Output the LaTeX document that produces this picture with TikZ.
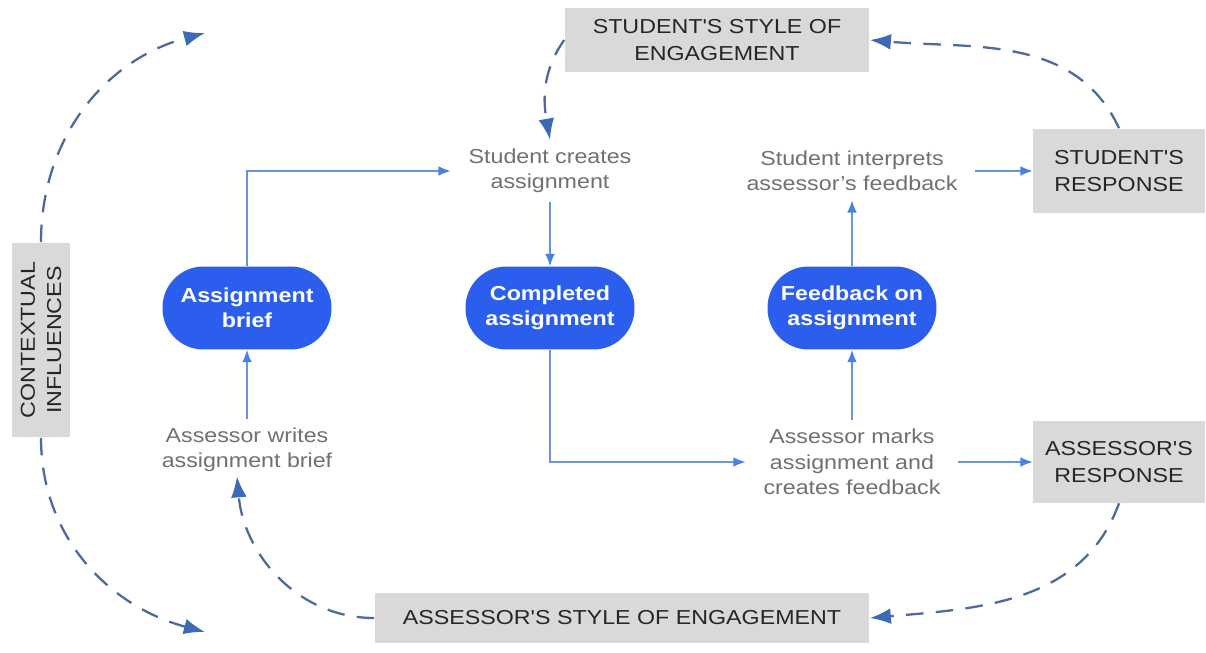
\documentclass[tikz,border=0pt]{standalone}
\usepackage{fontspec}
\setmainfont[FakeStretch=1.15]{Liberation Sans}
\newfontfamily\boxfont[FakeStretch=1.15]{Liberation Sans}
\usepackage{xcolor}
\usetikzlibrary{arrows.meta}

\definecolor{pillblue}{RGB}{43,94,236}
\definecolor{boxgray}{RGB}{217,217,217}
\definecolor{flowline}{RGB}{105,148,215}
\definecolor{flowtip}{RGB}{72,130,222}
\definecolor{influenceline}{RGB}{78,106,156}
\definecolor{influencetip}{RGB}{60,106,182}
\definecolor{stepgray}{RGB}{112,112,112}

\begin{document}
\begin{tikzpicture}[x=0.02cm,y=-0.02cm,
    pill/.style={fill=pillblue, text=white, font=\bfseries\fontsize{11.5}{14.5}\selectfont,
        rounded corners=0.82cm, minimum width=3.38cm, minimum height=1.66cm, align=center, inner sep=0pt},
    actor/.style={fill=boxgray, text=black!85, font=\boxfont\fontsize{11.5}{15}\selectfont, align=center, inner sep=0pt},
    stepnote/.style={text=stepgray, font=\fontsize{11.5}{14.5}\selectfont, align=center,
        inner xsep=10pt, inner ysep=5pt},
    flowarrow/.style={draw=flowline, line width=0.8pt, -{Latex[length=7pt,width=5.5pt,color=flowtip]}},
    influence/.style={draw=influenceline, line width=1.3pt, dash pattern=on 10pt off 7pt,
        -{Latex[length=12pt,width=9pt,color=influencetip]}},
]
    \useasboundingbox (0,0) rectangle (1206,652);

    % grey boxes: the two sides and the context
    \node[actor, minimum width=3.9cm, minimum height=1.18cm, rotate=90] (context) at (41,340) {CONTEXTUAL\\INFLUENCES};
    \node[actor, minimum width=6.1cm, minimum height=1.3cm] (sstyle) at (717,40) {STUDENT'S STYLE OF\\ENGAGEMENT};
    \node[actor, minimum width=3.44cm, minimum height=1.7cm] (sresp) at (1119,171) {STUDENT'S\\RESPONSE};
    \node[actor, minimum width=3.44cm, minimum height=1.64cm] (aresp) at (1119,462) {ASSESSOR'S\\RESPONSE};
    \node[actor, minimum width=9.9cm, minimum height=1.0cm] (astyle) at (622,618) {ASSESSOR'S STYLE OF ENGAGEMENT};

    % the three documents
    \node[pill] (brief) at (247,308) {Assignment\\brief};
    \node[pill] (done) at (550,308) {Completed\\assignment};
    \node[pill] (fback) at (852,308) {Feedback on\\assignment};

    % the steps
    \node[stepnote] (create) at (550,171) {Student creates\\assignment};
    \node[stepnote] (interp) at (852,171) {Student interprets\\assessor's feedback};
    \node[stepnote] (write) at (247,450) {Assessor writes\\assignment brief};
    \node[stepnote] (mark) at (852,462) {Assessor marks\\assignment and\\creates feedback};

    % solid flow
    \draw[flowarrow] (write.north) -- (brief.south);
    \draw[flowarrow] (brief.north) |- (create.west);
    \draw[flowarrow] (create.south) -- (done.north);
    \draw[flowarrow] (done.south) |- (mark.west);
    \draw[flowarrow] (mark.north) -- (fback.south);
    \draw[flowarrow] (fback.north) -- (interp.south);
    \draw[flowarrow] (interp.east) -- (sresp.west);
    \draw[flowarrow] (mark.east) -- (aresp.west);

    % dashed influences
    \coordinate (ctxup) at (205,33);
    \coordinate (ctxdown) at (205,632);
    \draw[influence] (context.east) to[out=90,in=195] (ctxup);
    \draw[influence] (context.west) to[out=-90,in=165] (ctxdown);
    \draw[influence] (sstyle.west) to[out=235,in=100] (create.north);
    \draw[influence] (sresp.north) to[out=115,in=-5] (sstyle.east);
    \draw[influence] (aresp.south) to[out=-110,in=5] (astyle.east);
    \draw[influence] (astyle.west) to[out=180,in=-85] ([xshift=-0.2cm,yshift=0.1cm]write.south);
\end{tikzpicture}
\end{document}
